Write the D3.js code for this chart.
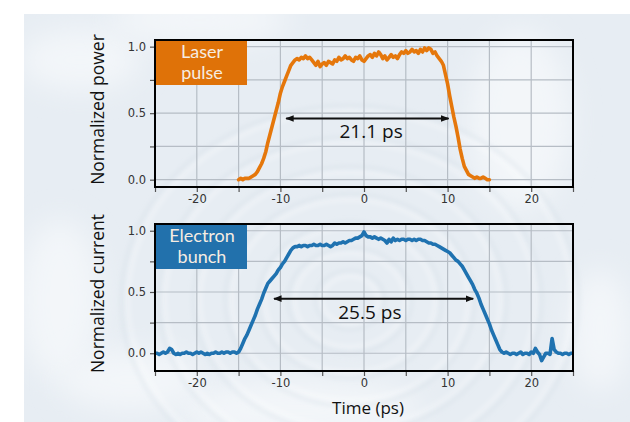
<!DOCTYPE html>
<html>
<head>
<meta charset="utf-8">
<script src="https://cdn.jsdelivr.net/npm/d3@7"></script>
<style>
  html, body { margin: 0; padding: 0; background: #ffffff; }
  svg { display: block; }
</style>
</head>
<body>
<svg id="chart" width="630" height="422"></svg>
<script>
// Measured laser pulse: [time (ps), normalized power]
const laserPulse = [
  [-15,0.00],[-14.75,0.01],[-14.5,0.00],[-14.25,0.01],[-14,0.01],[-13.75,0.01],[-13.5,0.02],[-13.25,0.03],
  [-13,0.04],[-12.75,0.06],[-12.5,0.09],[-12.25,0.12],[-12,0.16],[-11.75,0.21],[-11.5,0.28],[-11.25,0.34],
  [-11,0.40],[-10.75,0.46],[-10.5,0.52],[-10.25,0.58],[-10,0.65],[-9.75,0.70],[-9.5,0.74],[-9.25,0.78],
  [-9,0.82],[-8.75,0.86],[-8.5,0.88],[-8.25,0.90],[-8,0.91],[-7.75,0.90],[-7.5,0.92],[-7.25,0.91],
  [-7,0.93],[-6.75,0.91],[-6.5,0.92],[-6.25,0.90],[-6,0.88],[-5.75,0.86],[-5.5,0.89],[-5.25,0.85],
  [-5,0.87],[-4.75,0.88],[-4.5,0.86],[-4.25,0.89],[-4,0.88],[-3.75,0.87],[-3.5,0.90],[-3.25,0.89],
  [-3,0.92],[-2.75,0.90],[-2.5,0.91],[-2.25,0.93],[-2,0.91],[-1.75,0.92],[-1.5,0.90],[-1.25,0.89],
  [-1,0.92],[-0.75,0.91],[-0.5,0.93],[-0.25,0.90],[0,0.89],[0.25,0.91],[0.5,0.93],[0.75,0.94],
  [1,0.92],[1.25,0.95],[1.5,0.93],[1.75,0.96],[2,0.94],[2.25,0.91],[2.5,0.93],[2.75,0.90],
  [3,0.92],[3.25,0.94],[3.5,0.92],[3.75,0.93],[4,0.91],[4.25,0.94],[4.5,0.96],[4.75,0.95],
  [5,0.97],[5.25,0.95],[5.5,0.96],[5.75,0.98],[6,0.96],[6.25,0.97],[6.5,0.95],[6.75,0.98],
  [7,0.96],[7.25,0.99],[7.5,0.97],[7.75,0.99],[8,0.98],[8.25,0.95],[8.5,0.96],[8.75,0.93],
  [9,0.91],[9.25,0.89],[9.5,0.86],[9.75,0.79],[10,0.72],[10.25,0.63],[10.5,0.55],[10.75,0.47],
  [11,0.40],[11.25,0.32],[11.5,0.23],[11.75,0.16],[12,0.10],[12.25,0.07],[12.5,0.04],[12.75,0.03],
  [13,0.02],[13.25,0.01],[13.5,0.02],[13.75,0.01],[14,0.01],[14.25,0.02],[14.5,0.01],[14.75,0.00],
  [15,0.00]
];

// Measured electron bunch: [time (ps), normalized current]
const electronBunch = [
  [-25,0.00],[-24.75,0.00],[-24.5,-0.01],[-24.25,0.00],[-24,0.01],[-23.75,0.00],[-23.5,0.01],[-23.25,0.04],
  [-23,0.03],[-22.75,0.00],[-22.5,-0.01],[-22.25,0.00],[-22,-0.01],[-21.75,0.00],[-21.5,0.00],[-21.25,0.01],
  [-21,0.00],[-20.75,0.00],[-20.5,-0.01],[-20.25,0.00],[-20,0.01],[-19.75,0.00],[-19.5,0.01],[-19.25,0.00],
  [-19,-0.01],[-18.75,0.00],[-18.5,-0.01],[-18.25,0.00],[-18,0.00],[-17.75,0.01],[-17.5,0.00],[-17.25,0.00],
  [-17,0.01],[-16.75,0.00],[-16.5,0.01],[-16.25,0.01],[-16,0.00],[-15.75,0.01],[-15.5,0.01],[-15.25,0.00],
  [-15,0.01],[-14.75,0.04],[-14.5,0.08],[-14.25,0.12],[-14,0.15],[-13.75,0.19],[-13.5,0.23],[-13.25,0.27],
  [-13,0.31],[-12.75,0.36],[-12.5,0.40],[-12.25,0.44],[-12,0.49],[-11.75,0.53],[-11.5,0.57],[-11.25,0.59],
  [-11,0.61],[-10.75,0.63],[-10.5,0.65],[-10.25,0.68],[-10,0.70],[-9.75,0.73],[-9.5,0.75],[-9.25,0.78],
  [-9,0.81],[-8.75,0.84],[-8.5,0.86],[-8.25,0.87],[-8,0.87],[-7.75,0.88],[-7.5,0.87],[-7.25,0.88],
  [-7,0.88],[-6.75,0.87],[-6.5,0.88],[-6.25,0.88],[-6,0.89],[-5.75,0.88],[-5.5,0.88],[-5.25,0.89],
  [-5,0.88],[-4.75,0.88],[-4.5,0.89],[-4.25,0.88],[-4,0.87],[-3.75,0.88],[-3.5,0.90],[-3.25,0.89],
  [-3,0.90],[-2.75,0.90],[-2.5,0.91],[-2.25,0.90],[-2,0.91],[-1.75,0.92],[-1.5,0.92],[-1.25,0.93],
  [-1,0.94],[-0.75,0.94],[-0.5,0.95],[-0.25,0.96],[0,0.99],[0.25,0.96],[0.5,0.95],[0.75,0.95],
  [1,0.94],[1.25,0.95],[1.5,0.94],[1.75,0.93],[2,0.94],[2.25,0.93],[2.5,0.92],[2.75,0.90],
  [3,0.93],[3.25,0.91],[3.5,0.94],[3.75,0.92],[4,0.93],[4.25,0.92],[4.5,0.93],[4.75,0.93],
  [5,0.92],[5.25,0.93],[5.5,0.93],[5.75,0.92],[6,0.93],[6.25,0.92],[6.5,0.93],[6.75,0.93],
  [7,0.92],[7.25,0.92],[7.5,0.91],[7.75,0.90],[8,0.90],[8.25,0.89],[8.5,0.89],[8.75,0.88],
  [9,0.87],[9.25,0.86],[9.5,0.85],[9.75,0.84],[10,0.83],[10.25,0.82],[10.5,0.80],[10.75,0.78],
  [11,0.76],[11.25,0.75],[11.5,0.73],[11.75,0.71],[12,0.68],[12.25,0.65],[12.5,0.62],[12.75,0.59],
  [13,0.56],[13.25,0.52],[13.5,0.49],[13.75,0.45],[14,0.40],[14.25,0.36],[14.5,0.32],[14.75,0.28],
  [15,0.24],[15.25,0.19],[15.5,0.15],[15.75,0.11],[16,0.07],[16.25,0.03],[16.5,0.01],[16.75,0.00],
  [17,0.01],[17.25,0.00],[17.5,-0.01],[17.75,0.00],[18,0.00],[18.25,-0.01],[18.5,0.00],[18.75,0.01],
  [19,-0.01],[19.25,0.00],[19.5,0.00],[19.75,-0.01],[20,0.01],[20.25,0.00],[20.5,0.04],[20.75,0.01],
  [21,-0.01],[21.25,-0.06],[21.5,-0.03],[21.75,0.00],[22,0.00],[22.25,-0.01],[22.5,0.12],[22.75,0.03],
  [23,0.01],[23.25,0.00],[23.5,0.00],[23.75,-0.01],[24,0.00],[24.25,0.00],[24.5,-0.01],[24.75,0.00],
  [25,0.00]
];

// Axis ticks
const timeTicks = [-25, -20, -15, -10, -5, 0, 5, 10, 15, 20, 25];
const timeTickLabels = [-20, -10, 0, 10, 20];
const levelTicks = [0, 0.25, 0.5, 0.75, 1.0];
const levelTickLabels = [0, 0.5, 1.0];

// Width annotations: start time (ps), width (ps), level, label position (ps)
const laserWidth = { start: -10.15, width: 21.1, level: 0.46, labelAt: 0.85 };
const bunchWidth = { start: -11.6, width: 25.5, level: 0.445, labelAt: 0.7 };

const panels = [
  { key: "laser", data: laserPulse, color: "#e5770b", boxColor: "#df7208",
    title: ["Laser", "pulse"], ylabel: "Normalized power",
    yDomain: [-0.055, 1.05], top: 40, bottom: 187, width: laserWidth },
  { key: "bunch", data: electronBunch, color: "#1f72b0", boxColor: "#2271ac",
    title: ["Electron", "bunch"], ylabel: "Normalized current",
    yDomain: [-0.145, 1.055], top: 224, bottom: 371, width: bunchWidth }
];

const svg = d3.select("#chart");
const defs = svg.append("defs");

// Soft watery backdrop
defs.append("filter").attr("id", "soft").attr("x", "-20%").attr("y", "-20%")
  .attr("width", "140%").attr("height", "140%")
  .append("feGaussianBlur").attr("stdDeviation", 2.2);
defs.append("filter").attr("id", "softer").attr("x", "-50%").attr("y", "-50%")
  .attr("width", "200%").attr("height", "200%")
  .append("feGaussianBlur").attr("stdDeviation", 14);
defs.append("clipPath").attr("id", "panelClip")
  .append("rect").attr("x", 24).attr("y", 14).attr("width", 606).attr("height", 408);
defs.append("marker").attr("id", "head")
  .attr("viewBox", "0 0 10 10").attr("refX", 9).attr("refY", 5)
  .attr("markerWidth", 4.2).attr("markerHeight", 4.2).attr("orient", "auto-start-reverse")
  .attr("markerUnits", "strokeWidth")
  .append("path").attr("d", "M0,1 L10,5 L0,9 Z").attr("fill", "#111");

const bg = svg.append("g").attr("clip-path", "url(#panelClip)");
bg.append("rect").attr("x", 24).attr("y", 14).attr("width", 606).attr("height", 408)
  .attr("fill", "#e7edf3");
// lighter patches
const patches = [[80, 60, 60, 30], [200, 20, 90, 25], [60, 300, 40, 80], [520, 120, 50, 90],
                 [300, 410, 120, 30], [600, 330, 30, 60], [130, 380, 70, 30]];
bg.selectAll("ellipse.patch").data(patches).join("ellipse")
  .attr("class", "patch")
  .attr("cx", d => d[0]).attr("cy", d => d[1]).attr("rx", d => d[2]).attr("ry", d => d[3])
  .attr("fill", "#f3f6f9").attr("filter", "url(#softer)");
// ripple rings
const rings = [28, 55, 85, 118, 150, 185, 222];
bg.selectAll("ellipse.ring-light").data(rings).join("ellipse")
  .attr("class", "ring-light")
  .attr("cx", 350).attr("cy", 300).attr("rx", d => d).attr("ry", d => d * 0.85)
  .attr("fill", "none").attr("stroke", "#ffffff").attr("stroke-opacity", 0.3)
  .attr("stroke-width", 4).attr("filter", "url(#soft)");
bg.selectAll("ellipse.ring-dark").data(rings).join("ellipse")
  .attr("class", "ring-dark")
  .attr("cx", 350).attr("cy", 300).attr("rx", d => d + 7).attr("ry", d => (d + 7) * 0.85)
  .attr("fill", "none").attr("stroke", "#cfd9e3").attr("stroke-opacity", 0.35)
  .attr("stroke-width", 3).attr("filter", "url(#soft)");

const x = d3.scaleLinear().domain([-25, 25]).range([155, 573]);

panels.forEach(p => {
  const y = d3.scaleLinear().domain(p.yDomain).range([p.bottom, p.top]);
  const g = svg.append("g").attr("class", "panel-" + p.key);
  const clipId = "clip-" + p.key;
  defs.append("clipPath").attr("id", clipId).append("rect")
    .attr("x", x.range()[0]).attr("y", p.top)
    .attr("width", x.range()[1] - x.range()[0]).attr("height", p.bottom - p.top);

  // grid
  g.append("g").selectAll("line").data(timeTicks.slice(1, -1)).join("line")
    .attr("x1", d => x(d)).attr("x2", d => x(d)).attr("y1", p.top).attr("y2", p.bottom)
    .attr("stroke", "#b6bdc5").attr("stroke-width", 1.2);
  g.append("g").selectAll("line").data(levelTicks).join("line")
    .attr("x1", x.range()[0]).attr("x2", x.range()[1]).attr("y1", d => y(d)).attr("y2", d => y(d))
    .attr("stroke", "#b6bdc5").attr("stroke-width", 1.2);

  // axes
  const xAxis = d3.axisBottom(x).tickValues(timeTicks).tickSize(5).tickPadding(3)
    .tickFormat(d => timeTickLabels.includes(d) ? d3.format("d")(d).replace("−", "-") : "");
  const yAxis = d3.axisLeft(y).tickValues(levelTicks).tickSize(5).tickPadding(4)
    .tickFormat(d => levelTickLabels.includes(d) ? d3.format(".1f")(d) : "");
  [g.append("g").attr("transform", `translate(0,${p.bottom})`).call(xAxis),
   g.append("g").attr("transform", `translate(${x.range()[0]},0)`).call(yAxis)]
    .forEach(a => {
      a.select(".domain").remove();
      a.selectAll(".tick line").attr("stroke", "#555").attr("stroke-width", 1.2);
      a.selectAll(".tick text").attr("fill", "#333")
        .style("font-family", "'DejaVu Sans', sans-serif").style("font-size", "11.5px");
    });

  // curve
  const line = d3.line().x(d => x(d[0])).y(d => y(d[1])).curve(d3.curveLinear);
  g.append("path").datum(p.data).attr("d", line)
    .attr("clip-path", `url(#${clipId})`)
    .attr("fill", "none").attr("stroke", p.color).attr("stroke-width", 3.6)
    .attr("stroke-linejoin", "round").attr("stroke-linecap", "round");

  // frame
  g.append("rect").attr("x", x.range()[0]).attr("y", p.top)
    .attr("width", x.range()[1] - x.range()[0]).attr("height", p.bottom - p.top)
    .attr("fill", "none").attr("stroke", "#000").attr("stroke-width", 2);

  // title box with a two-line label
  const box = g.append("g").attr("transform", `translate(${x.range()[0] + 1},${p.top + 1})`);
  box.append("rect").attr("width", 91).attr("height", 44).attr("fill", p.boxColor);
  box.selectAll("text").data(p.title).join("text")
    .attr("x", 46).attr("y", (d, i) => 16.5 + i * 21.8)
    .attr("text-anchor", "middle")
    .attr("fill", "#f6ece2")
    .style("font-family", "Lato, sans-serif").style("font-size", "18px")
    .text(d => d);

  // width arrow
  const w = p.width;
  const pad = 7;
  g.append("line")
    .attr("x1", x(w.start) + pad).attr("x2", x(w.start + w.width) - pad)
    .attr("y1", y(w.level)).attr("y2", y(w.level))
    .attr("stroke", "#111").attr("stroke-width", 2)
    .attr("marker-start", "url(#head)").attr("marker-end", "url(#head)");
  g.append("text").attr("x", x(w.labelAt)).attr("y", y(w.level) + 20)
    .attr("text-anchor", "middle").attr("fill", "#111")
    .style("font-family", "'Open Sans', sans-serif").style("font-size", "19px")
    .text(`${w.width.toFixed(1)} ps`);

  // y label
  g.append("text")
    .attr("transform", `translate(104,${(p.top + p.bottom) / 2 - 4}) rotate(-90)`)
    .attr("text-anchor", "middle").attr("fill", "#111")
    .style("font-family", "'Open Sans', sans-serif").style("font-size", "17.5px")
    .text(p.ylabel);
});

// x label
svg.append("text").attr("x", 368).attr("y", 414)
  .attr("text-anchor", "middle").attr("fill", "#111")
  .style("font-family", "'Open Sans', sans-serif").style("font-size", "17px")
  .text("Time (ps)");
</script>
</body>
</html>
